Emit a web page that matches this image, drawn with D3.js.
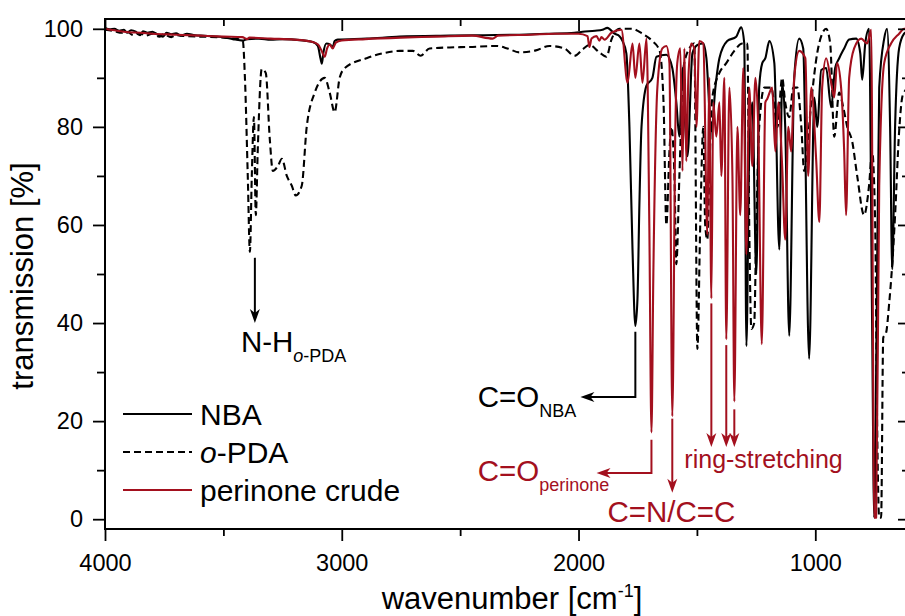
<!DOCTYPE html>
<html>
<head>
<meta charset="utf-8">
<script src="https://cdn.jsdelivr.net/npm/d3@7"></script>
<style>
  body { margin: 0; background: #fff; }
  svg { display: block; }
  text { font-family: "Liberation Sans", Arial, sans-serif; fill: #000; }
</style>
</head>
<body>
<svg id="chart" width="905" height="616"></svg>
<script>

// wavenumber [cm-1], transmission [%]
var nba = [
    [4000,100.2],[3980,99.9],[3960,100],[3940,99.6],[3920,99.8],[3907,99.2],[3890,99.7],[3870,99.4],
    [3852,98.7],[3840,99.5],[3820,99.2],[3800,99.4],[3780,98.9],[3755,98.4],[3740,99.2],[3720,98.9],
    [3700,99.1],[3680,98.6],[3654,99.0],[3620,98.7],[3580,98.6],[3527,98.4],[3500,98.3],[3460,97.9],
    [3418,97.6],[3400,97.9],[3350,98.0],[3300,97.8],[3250,97.9],[3177,97.7],[3122,97.3],[3101,96.5],
    [3090,94],[3084,92.9],[3078,95],[3065,97],[3050,96.8],[3038,96.3],[3030,97.5],[3017,97.8],
    [2895,98],[2755,98.4],[2544,98.6],[2400,98.7],[2250,98.8],[2123,99],[2017,99.2],[1983,99.4],
    [1930,99.6],[1899,99.8],[1878,100.2],[1848,99],[1827,98.5],[1815,97.6],[1798,95],[1785,80],
    [1772,55],[1760,39.4],[1751,45],[1743,64],[1734,80],[1713,88.4],[1688,90],[1671,94.3],[1629,94.7],
    [1604,92],[1587,85],[1574,78],[1561,92],[1549,80],[1540,74],[1519,95],[1498,96.7],[1473,97],
    [1460,94],[1439,79],[1422,88],[1405,94],[1372,97.5],[1334,98.4],[1313,100.3],[1300,97],[1291,35.3],
    [1279,75],[1266,85],[1249,50],[1237,88],[1224,93],[1211,94],[1194,97.5],[1173,93],[1152,55],
    [1140,89],[1127,80],[1110,37.4],[1089,90],[1068,98],[1051,96],[1026,32.7],[1004,86],[992,80],
    [975,91.6],[954,92],[933,84],[916,92],[899,94],[878,96],[857,97.8],[827,98],[810,95],[802,89.6],
    [789,97],[773,100],[760,40],[751,0.3],[743,30],[730,88],[709,98],[697,100],[684,80],[675,51],
    [663,80],[646,96],[625,99],[610,99.5]
];

var oPDA = [
    [4000,99.8],[3960,99.5],[3930,99.2],[3907,99.4],[3880,98.7],[3852,99.1],[3830,98.6],[3800,99],
    [3770,98.4],[3755,98.9],[3720,98.3],[3700,98.7],[3660,98.5],[3600,98.4],[3527,98.3],[3460,98],
    [3430,97.8],[3418,97.5],[3409,90],[3397,70],[3388,54.5],[3380,70],[3371,82],[3363,62],[3355,75],
    [3338,91.8],[3321,91],[3304,77.5],[3291,71],[3270,72],[3253,73.5],[3232,70],[3211,68],[3194,66],
    [3169,68],[3148,80],[3114,87],[3072,90],[3051,87],[3030,83],[3009,90],[2987,92],[2895,94],
    [2827,95],[2755,95.5],[2700,95.5],[2667,94.5],[2629,96],[2544,96.2],[2460,96.3],[2346,96.5],
    [2300,96],[2249,95.2],[2180,95.6],[2123,96.5],[2060,96],[2017,94.5],[1983,95.8],[1954,96.7],
    [1912,95.2],[1882,94.3],[1861,97.8],[1827,100],[1777,100],[1730,99],[1688,97.5],[1658,95.6],
    [1641,85],[1629,60],[1616,75],[1608,80],[1595,70],[1587,52],[1574,70],[1557,92],[1532,96],
    [1511,97],[1498,34.7],[1486,60],[1473,80],[1465,60],[1456,57],[1448,70],[1435,86],[1405,91],
    [1376,93],[1342,95.5],[1308,97],[1287,97],[1279,60],[1270,38.8],[1258,40],[1249,60],[1237,80],
    [1215,88],[1186,88],[1160,80],[1140,90],[1127,85],[1110,82],[1093,88],[1076,88],[1059,80],
    [1047,71],[1030,78],[1017,85],[992,95],[971,99],[954,100],[937,97],[920,78],[899,87],[882,84],
    [865,80],[844,77],[823,70],[794,62],[773,68],[760,75],[747,60],[739,20],[730,0.3],[722,0.3],
    [713,37],[701,38],[688,44],[675,52],[663,62],[646,79],[633,86],[625,87],[610,88]
];

var perinone = [
    [4000,100],[3950,99.6],[3900,99.3],[3850,99.2],[3800,99],[3700,98.8],[3600,98.6],[3500,98.4],
    [3420,98.3],[3400,97.9],[3390,98.2],[3300,98],[3200,97.8],[3130,97.4],[3100,96.8],[3085,95.5],
    [3072,94.3],[3062,96],[3051,96.8],[3038,96],[3025,97.2],[3000,97.6],[2900,97.9],[2750,98.2],
    [2600,98.4],[2450,98.6],[2363,98],[2340,98.6],[2200,98.8],[2100,99],[2000,99],[1962,98.5],
    [1954,96.3],[1945,98],[1924,98.5],[1912,97.6],[1903,98.3],[1890,97.8],[1861,99.2],[1819,99.8],
    [1793,89],[1772,97],[1760,90],[1743,97],[1730,89],[1713,98],[1701,60],[1692,17.7],[1684,50],
    [1667,88],[1646,96],[1629,96.5],[1616,93],[1604,21],[1591,80],[1583,93],[1570,96],[1561,71],
    [1553,96],[1545,73],[1536,90],[1524,97],[1511,96],[1502,80],[1490,97.5],[1473,97],[1456,58],
    [1448,90],[1439,45],[1431,85],[1418,78],[1405,85],[1397,70],[1384,90],[1376,36.7],[1363,88],
    [1350,70],[1342,24],[1329,80],[1317,62],[1304,92],[1291,54],[1279,88],[1266,72],[1253,90],
    [1241,80],[1226,35.7],[1211,85],[1203,85.7],[1182,88],[1169,75],[1156,85],[1140,72],[1127,57],
    [1114,80],[1102,75],[1089,90],[1068,95.5],[1042,94],[1030,70],[1017,88],[996,73],[983,60.6],
    [971,88],[954,94],[933,89],[920,86],[908,93],[891,88],[878,75],[870,62],[857,90],[836,96],
    [806,98],[781,97],[764,99.8],[751,0.3],[743,0.3],[730,68],[709,93],[680,97],[646,99],[625,100],
    [610,100]
];

var xMajor = [4000, 3000, 2000, 1000];
var xMinor = [3500, 2500, 1500];
var yMajor = [0, 20, 40, 60, 80, 100];
var yMinor = [10, 30, 50, 70, 90];

// annotation arrows: [wavenumber, transmission] points, last point is the tip
var arrowNH = [[3367, 53.3], [3367, 40.0]];
var arrowCONBA = [[1760, 38.2], [1760, 24.9], [1992, 24.9]];
var arrowCOPer = [[1692, 16.2], [1692, 9.4], [1924, 9.4]];
var arrowCN = [[1604, 20.5], [1604, 5.4]];
var ringArrows = [
    [[1439, 44.0], [1439, 14.7]],
    [[1376, 35.5], [1376, 14.7]],
    [[1342, 22.4], [1342, 14.7]]
];

var RED = "#a3101e";

var svg = d3.select("#chart");

var x = d3.scaleLinear().domain([4000, 600]).range([105, 910]);
var y = d3.scaleLinear().domain([-2, 102]).range([529, 19]);

svg.append("defs").append("clipPath").attr("id", "plotClip")
    .append("rect")
    .attr("x", x.range()[0]).attr("y", y.range()[1])
    .attr("width", x.range()[1] - x.range()[0])
    .attr("height", y.range()[0] - y.range()[1]);

var line = d3.line()
    .x(function (d) { return x(d[0]); })
    .y(function (d) { return y(d[1]); })
    .curve(d3.curveMonotoneX);

var plot = svg.append("g").attr("clip-path", "url(#plotClip)");

plot.append("path").datum(nba)
    .attr("d", line).attr("fill", "none")
    .attr("stroke", "#000").attr("stroke-width", 2.1).attr("stroke-linejoin", "round");

plot.append("path").datum(oPDA)
    .attr("d", line).attr("fill", "none")
    .attr("stroke", "#000").attr("stroke-width", 2.1)
    .attr("stroke-dasharray", "7,4");

plot.append("path").datum(perinone)
    .attr("d", line).attr("fill", "none")
    .attr("stroke", RED).attr("stroke-width", 2.1).attr("stroke-linejoin", "round");

// axes
function styleAxis(g, fontSize) {
    g.select(".domain").remove();
    g.selectAll(".tick line").attr("stroke", "#000").attr("stroke-width", 1.8);
    g.attr("font-family", '"Liberation Sans", Arial, sans-serif')
        .attr("font-size", fontSize);
    g.selectAll(".tick text").attr("fill", "#000");
}

svg.append("g").attr("transform", "translate(0," + y.range()[0] + ")")
    .call(d3.axisBottom(x).tickValues(xMajor).tickSize(12).tickPadding(13).tickFormat(d3.format("d")))
    .call(styleAxis, 23.5);
svg.append("g").attr("transform", "translate(0," + y.range()[0] + ")")
    .call(d3.axisBottom(x).tickValues(xMinor).tickSize(7).tickFormat(""))
    .call(styleAxis, 10);

svg.append("g").attr("transform", "translate(0," + y.range()[1] + ")")
    .call(d3.axisBottom(x).tickValues(xMajor).tickSize(12).tickFormat(""))
    .call(styleAxis, 10);
svg.append("g").attr("transform", "translate(0," + y.range()[1] + ")")
    .call(d3.axisBottom(x).tickValues(xMinor).tickSize(7).tickFormat(""))
    .call(styleAxis, 10);

svg.append("g").attr("transform", "translate(" + x.range()[0] + ",0)")
    .call(d3.axisLeft(y).tickValues(yMajor).tickSize(12).tickPadding(10).tickFormat(d3.format("d")))
    .call(styleAxis, 23.5);
svg.append("g").attr("transform", "translate(" + x.range()[0] + ",0)")
    .call(d3.axisLeft(y).tickValues(yMinor).tickSize(8).tickFormat(""))
    .call(styleAxis, 10);

svg.append("g").attr("transform", "translate(" + x.range()[1] + ",0)")
    .call(d3.axisLeft(y).tickValues(yMajor).tickSize(12).tickFormat(""))
    .call(styleAxis, 10);
svg.append("g").attr("transform", "translate(" + x.range()[1] + ",0)")
    .call(d3.axisLeft(y).tickValues(yMinor).tickSize(8).tickFormat(""))
    .call(styleAxis, 10);

svg.append("rect")
    .attr("x", x.range()[0]).attr("y", y.range()[1])
    .attr("width", x.range()[1] - x.range()[0])
    .attr("height", y.range()[0] - y.range()[1])
    .attr("fill", "none").attr("stroke", "#000").attr("stroke-width", 2);

// axis titles
var xt = svg.append("text")
    .attr("x", 512).attr("y", 609)
    .attr("text-anchor", "middle").attr("font-size", 31);
xt.append("tspan").text("wavenumber [cm");
xt.append("tspan").attr("dy", -12).attr("font-size", 18).text("-1");
xt.append("tspan").attr("dy", 12).text("]");

svg.append("text")
    .attr("transform", "translate(33,276) rotate(-90)")
    .attr("text-anchor", "middle").attr("font-size", 31)
    .text("transmission [%]");

// arrows
function drawArrow(pts, color) {
    var p = pts.map(function (d) { return [x(d[0]), y(d[1])]; });
    var n = p.length;
    var dx = p[n - 1][0] - p[n - 2][0], dy = p[n - 1][1] - p[n - 2][1];
    var len = Math.sqrt(dx * dx + dy * dy);
    var ang = Math.atan2(dy, dx) * 180 / Math.PI;
    var tip = p[n - 1];
    var shaft = p.slice(0, n - 1).concat([[tip[0] - dx / len * 8, tip[1] - dy / len * 8]]);
    svg.append("path")
        .attr("d", d3.line()(shaft))
        .attr("fill", "none").attr("stroke", color).attr("stroke-width", 2);
    svg.append("path")
        .attr("d", "M0,0 L-14,-5 L-10,0 L-14,5 Z")
        .attr("transform", "translate(" + tip[0] + "," + tip[1] + ") rotate(" + ang + ")")
        .attr("fill", color);
}

drawArrow(arrowNH, "#000");
drawArrow(arrowCONBA, "#000");
drawArrow(arrowCOPer, RED);
drawArrow(arrowCN, RED);
ringArrows.forEach(function (a) { drawArrow(a, RED); });

// annotation labels
function subLabel(wn, t, main, sub, color, italicO) {
    var txt = svg.append("text")
        .attr("x", x(wn)).attr("y", y(t))
        .attr("font-size", 29.5).style("fill", color);
    txt.append("tspan").text(main);
    if (italicO) {
        txt.append("tspan").attr("dy", 10).attr("font-size", 18).attr("font-style", "italic").text("o");
        txt.append("tspan").attr("font-size", 18).text("-PDA");
    } else {
        txt.append("tspan").attr("dy", 10).attr("font-size", 18).text(sub);
    }
}

subLabel(3426, 34.1, "N-H", "o-PDA", "#000", true);
subLabel(2426, 22.9, "C=O", "NBA", "#000", false);
subLabel(2426, 7.8, "C=O", "perinone", RED, false);

svg.append("text")
    .attr("x", x(1878)).attr("y", y(-0.6))
    .attr("font-size", 29.5).style("fill", RED)
    .text("C=N/C=C");

svg.append("text")
    .attr("x", x(1553)).attr("y", y(10.4))
    .attr("font-size", 25).style("fill", RED)
    .text("ring-stretching");

// legend
var legendItems = [
    { name: "NBA", color: "#000", dash: null, y: 414 },
    { name: "o-PDA", color: "#000", dash: "7,4", y: 452 },
    { name: "perinone crude", color: RED, dash: null, y: 490 }
];

var legend = svg.append("g");
legendItems.forEach(function (d) {
    legend.append("line")
        .attr("x1", 123).attr("x2", 192)
        .attr("y1", d.y).attr("y2", d.y)
        .attr("stroke", d.color).attr("stroke-width", 2.1)
        .attr("stroke-dasharray", d.dash);
    var t = legend.append("text")
        .attr("x", 200).attr("y", d.y + 10.5)
        .attr("font-size", 30);
    if (d.name === "o-PDA") {
        t.append("tspan").attr("font-style", "italic").text("o");
        t.append("tspan").text("-PDA");
    } else {
        t.text(d.name);
    }
});

</script>
</body>
</html>
